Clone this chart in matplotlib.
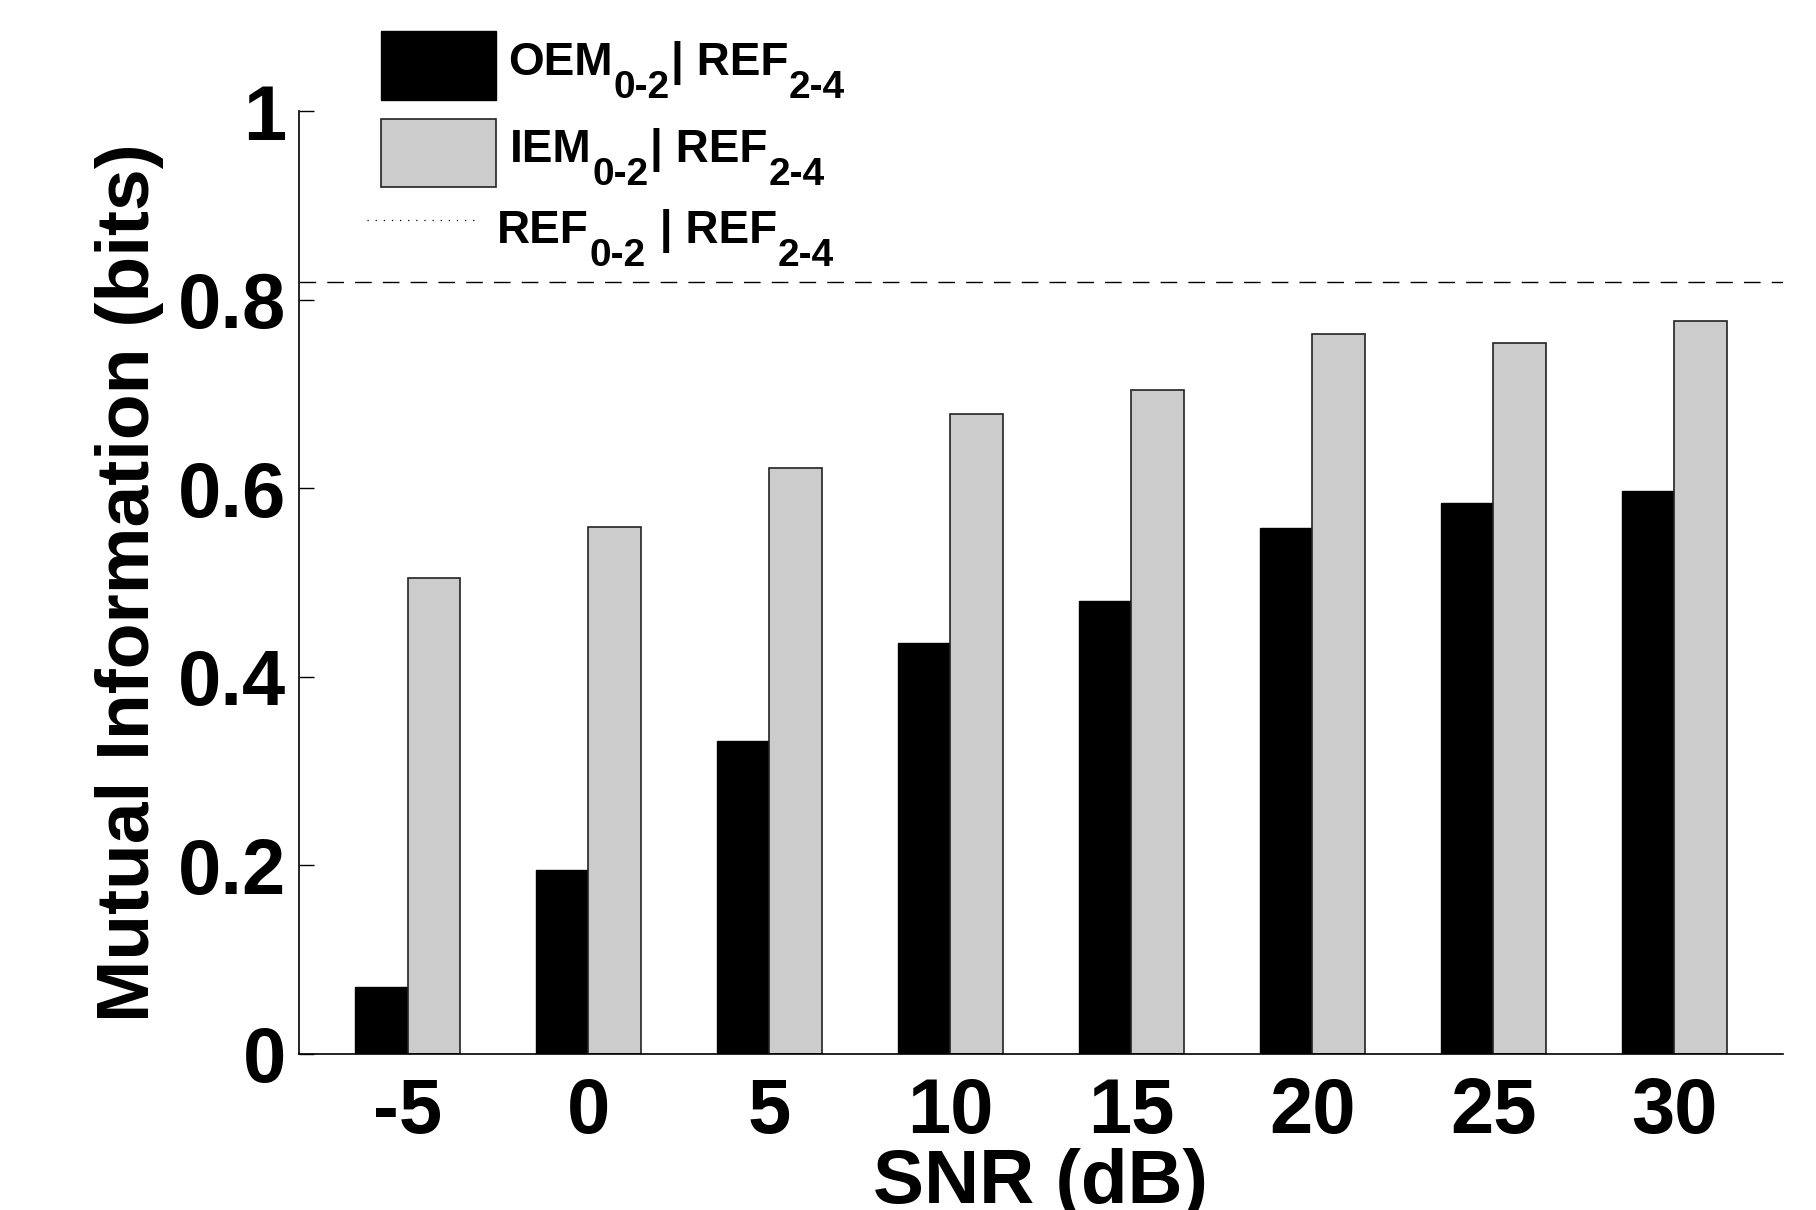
"""Mutual information vs SNR, grouped bar chart."""

import matplotlib

matplotlib.use("Agg")
import matplotlib.pyplot as plt
from matplotlib.lines import Line2D
from matplotlib.patches import Rectangle
import numpy as np

snr_labels = ["-5", "0", "5", "10", "15", "20", "25", "30"]
oem_values = [0.071, 0.195, 0.332, 0.436, 0.480, 0.558, 0.584, 0.597]
iem_values = [0.505, 0.559, 0.622, 0.679, 0.704, 0.764, 0.754, 0.778]
ref_value = 0.819

# legend labels as (text, is_subscript) pieces
legend_labels = [
    [("OEM", False), ("0-2", True), ("| REF", False), ("2-4", True)],
    [("IEM", False), ("0-2", True), ("| REF", False), ("2-4", True)],
    [("REF", False), ("0-2", True), (" | REF", False), ("2-4", True)],
]

plt.rcParams["font.family"] = ["Liberation Sans", "DejaVu Sans"]
plt.rcParams["font.weight"] = "bold"

W, H = 1816, 1210
fig = plt.figure(figsize=(W / 100, H / 100), dpi=100)
ax = fig.add_axes([0.1646, 0.129, 0.8172, 0.779])

x = np.arange(1, len(snr_labels) + 1)
width = 0.29
ax.bar(x - width / 2, oem_values, width, color="black", edgecolor="black", linewidth=1, zorder=2)
ax.bar(x + width / 2, iem_values, width, color="#cccccc", edgecolor="#222222", linewidth=1.2, zorder=2)
ax.axhline(ref_value, color="black", linewidth=1, dashes=(12, 8), zorder=1)

ax.set_xlim(0.4, 8.6)
ax.set_ylim(0, 1)
ax.set_xticks(x)
ax.set_xticklabels(snr_labels, fontsize=56, fontweight="bold")
ax.set_yticks([0, 0.2, 0.4, 0.6, 0.8, 1.0])
ax.set_yticklabels(["0", "0.2", "0.4", "0.6", "0.8", "1"], fontsize=56, fontweight="bold")
ax.tick_params(axis="x", length=0, pad=16)
ax.tick_params(axis="y", direction="in", length=10.8, width=1, pad=9)

for side in ("top", "right"):
    ax.spines[side].set_visible(False)
for side in ("left", "bottom"):
    ax.spines[side].set_linewidth(1.2)

ax.set_xlabel("SNR (dB)", fontsize=55, fontweight="bold", labelpad=-1)
ax.set_ylabel("Mutual Information (bits)", fontsize=54, fontweight="bold", labelpad=10)


# legend, drawn by hand in figure pixels so the subscripts can sit low like the original
def fx(px):
    return px / W


def fy(py):
    return 1 - py / H


fig.add_artist(Rectangle((fx(381), fy(100)), fx(496) - fx(381), fy(31) - fy(100),
                         transform=fig.transFigure, facecolor="black", edgecolor="black"))
fig.add_artist(Rectangle((fx(381), fy(187)), fx(496) - fx(381), fy(119) - fy(187),
                         transform=fig.transFigure, facecolor="#cccccc", edgecolor="#222222", linewidth=1.2))
fig.add_artist(Line2D([fx(367), fx(477)], [fy(220), fy(220)], transform=fig.transFigure,
                      color="black", linewidth=0.9, linestyle=(0, (1, 5.5))))

renderer = fig.canvas.get_renderer()
for pieces, left, base in zip(legend_labels, [508, 510, 497], [75, 162, 243]):
    cur = left
    for text, is_sub in pieces:
        size = 28 if is_sub else 33
        y = base + 23 if is_sub else base
        t = fig.text(fx(cur), fy(y), text, fontsize=size, fontweight="bold", ha="left", va="baseline")
        cur = t.get_window_extent(renderer).x1 + 1

fig.savefig("out.png", dpi=100)
plt.close(fig)
